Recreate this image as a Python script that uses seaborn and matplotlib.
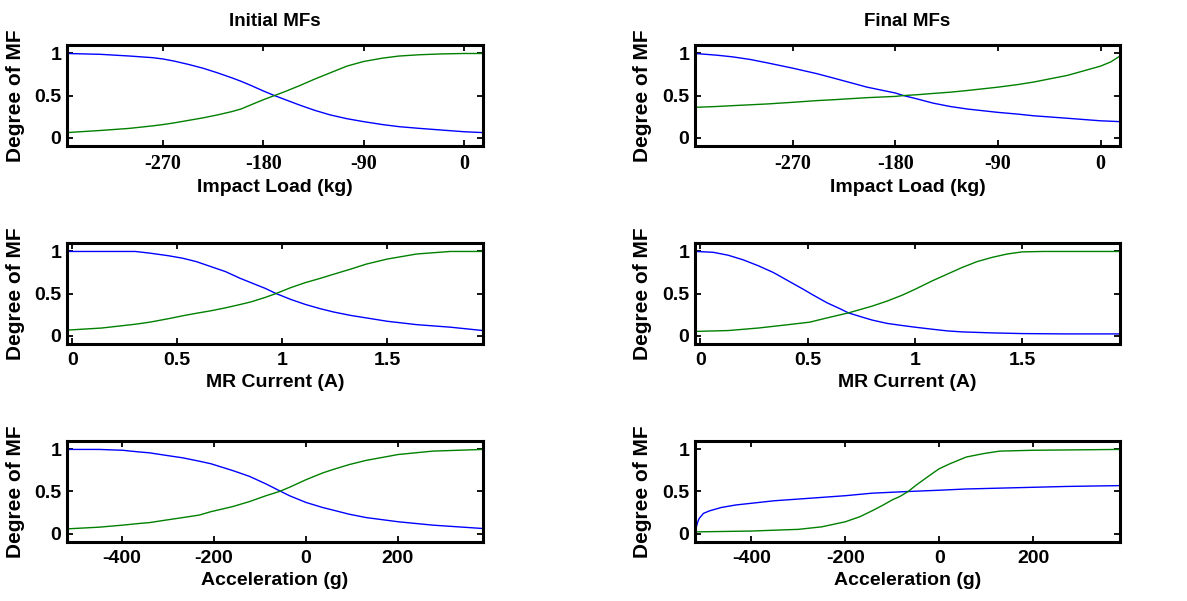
import matplotlib
matplotlib.use("Agg")
import matplotlib.pyplot as plt
import seaborn as sns

# ---------------- data ----------------
# Panel 1: Initial MFs, Impact Load
load_init_x = [-356, -326, -300, -279, -270, -260, -247, -234, -221, -208, -200, -191,
               -180, -170, -160, -147, -134, -120, -105, -90, -73, -58, -40, -20, 0, 17]
load_init_blue = [1.0, 0.99, 0.97, 0.95, 0.935, 0.91, 0.87, 0.825, 0.77, 0.71, 0.67, 0.62,
                  0.555, 0.50, 0.45, 0.385, 0.325, 0.27, 0.225, 0.19, 0.155, 0.13, 0.11,
                  0.09, 0.07, 0.06]
load_init_green = [0.06, 0.085, 0.11, 0.14, 0.155, 0.175, 0.205, 0.235, 0.27, 0.31, 0.34,
                   0.39, 0.45, 0.50, 0.55, 0.62, 0.695, 0.77, 0.85, 0.905, 0.945, 0.97,
                   0.985, 0.995, 1.0, 1.0]

# Panel 2: Final MFs, Impact Load
load_final_x = [-356, -337, -323, -308, -293, -270, -249, -235, -205, -180, -173,
                -161, -147, -132, -117, -90, -73, -59, -29, 0, 9, 17]
load_final_blue = [1.0, 0.98, 0.96, 0.93, 0.89, 0.825, 0.76, 0.71, 0.60, 0.53, 0.50,
                   0.46, 0.41, 0.37, 0.34, 0.30, 0.28, 0.26, 0.23, 0.20, 0.195, 0.19]
load_final_green = [0.36, 0.37, 0.38, 0.39, 0.40, 0.42, 0.44, 0.45, 0.475, 0.49, 0.50,
                    0.51, 0.525, 0.54, 0.56, 0.60, 0.63, 0.66, 0.74, 0.85, 0.90, 0.97]

# Panel 3: Initial MFs, MR Current
cur_init_x = [-0.025, 0.14, 0.30, 0.37, 0.456, 0.525, 0.59, 0.66, 0.73, 0.80, 0.85,
              0.92, 0.97, 1.04, 1.11, 1.18, 1.245, 1.325, 1.40, 1.50, 1.64, 1.80, 1.955]
cur_init_blue = [1.0, 1.0, 1.0, 0.98, 0.95, 0.92, 0.88, 0.82, 0.76, 0.68, 0.63,
                 0.56, 0.50, 0.43, 0.37, 0.32, 0.28, 0.24, 0.21, 0.17, 0.13, 0.10, 0.06]
cur_init_green = [0.065, 0.09, 0.135, 0.16, 0.20, 0.235, 0.265, 0.295, 0.33, 0.37, 0.40,
                  0.455, 0.50, 0.57, 0.63, 0.68, 0.73, 0.79, 0.85, 0.91, 0.97, 1.0, 1.0]

# Panel 4: Final MFs, MR Current
cur_final_blue_x = [-0.02, 0.06, 0.13, 0.20, 0.27, 0.34, 0.41, 0.48, 0.52, 0.59, 0.65,
                    0.69, 0.76, 0.80, 0.87, 0.94, 1.0, 1.08, 1.15, 1.22, 1.36, 1.5,
                    1.7, 1.955]
cur_final_blue = [1.0, 0.99, 0.955, 0.90, 0.83, 0.75, 0.65, 0.55, 0.49, 0.39, 0.32,
                  0.27, 0.215, 0.185, 0.145, 0.12, 0.10, 0.076, 0.056, 0.044, 0.032,
                  0.024, 0.02, 0.02]
cur_final_green_x = [-0.02, 0.13, 0.27, 0.41, 0.51, 0.59, 0.69, 0.80, 0.87, 0.94, 1.0,
                     1.08, 1.15, 1.22, 1.29, 1.36, 1.43, 1.5, 1.6, 1.955]
cur_final_green = [0.05, 0.06, 0.09, 0.13, 0.16, 0.21, 0.27, 0.35, 0.41, 0.48, 0.55,
                   0.65, 0.73, 0.81, 0.88, 0.93, 0.97, 0.995, 1.0, 1.0]

# Panel 5: Initial MFs, Acceleration
acc_init_x = [-519, -450, -399, -363, -341, -305, -268, -232, -207, -160, -123,
              -87, -58, -36, 0, 36, 58, 94, 131, 201, 276, 385]
acc_init_blue = [1.0, 1.0, 0.99, 0.97, 0.96, 0.93, 0.90, 0.86, 0.83, 0.75, 0.68,
                 0.59, 0.51, 0.45, 0.37, 0.31, 0.28, 0.23, 0.19, 0.14, 0.10, 0.06]
acc_init_green = [0.056, 0.076, 0.10, 0.12, 0.13, 0.16, 0.19, 0.22, 0.26, 0.32, 0.38,
                  0.45, 0.50, 0.55, 0.64, 0.72, 0.76, 0.82, 0.87, 0.94, 0.98, 1.0]

# Panel 6: Final MFs, Acceleration
acc_final_blue_x = [-519, -517, -514, -511, -502, -489, -464, -433, -400, -351, -300,
                    -250, -200, -143, -66, 0, 58, 129, 200, 271, 385]
acc_final_blue = [0.02, 0.08, 0.14, 0.18, 0.24, 0.27, 0.31, 0.34, 0.36, 0.39, 0.41,
                  0.43, 0.45, 0.48, 0.50, 0.515, 0.53, 0.54, 0.55, 0.56, 0.57]
acc_final_green_x = [-519, -400, -351, -300, -250, -200, -169, -143, -119, -100, -84,
                     -66, -48, -13, 0, 23, 58, 94, 129, 200, 385]
acc_final_green = [0.02, 0.03, 0.04, 0.05, 0.08, 0.14, 0.20, 0.27, 0.34, 0.40, 0.44,
                   0.50, 0.58, 0.72, 0.77, 0.83, 0.91, 0.95, 0.98, 0.99, 1.0]

titles = ["Initial MFs", "Final MFs"]
xlabels = ["Impact Load (kg)", "MR Current (A)", "Acceleration (g)"]
ylabel = "Degree of MF"
xticks_rows = [[-270, -180, -90, 0], [0, 0.5, 1, 1.5], [-400, -200, 0, 200]]
xticklabels_rows = [["-270", "-180", "-90", "0"], ["0", "0.5", "1", "1.5"],
                    ["-400", "-200", "0", "200"]]
xlims_rows = [(-356, 17), (-0.025, 1.955), (-520, 385)]
yticks = [0, 0.5, 1]
yticklabels = ["0", "0.5", "1"]

panels = [
    [(load_init_x, load_init_blue, load_init_x, load_init_green),
     (load_final_x, load_final_blue, load_final_x, load_final_green)],
    [(cur_init_x, cur_init_blue, cur_init_x, cur_init_green),
     (cur_final_blue_x, cur_final_blue, cur_final_green_x, cur_final_green)],
    [(acc_init_x, acc_init_blue, acc_init_x, acc_init_green),
     (acc_final_blue_x, acc_final_blue, acc_final_green_x, acc_final_green)],
]

# ---------------- style ----------------
sns.set_theme(style="white")
plt.rcParams['font.family'] = ['Liberation Sans', 'DejaVu Sans']
plt.rcParams['font.weight'] = 'bold'

BLUE = "#0000FF"
GREEN = "#008000"

fig = plt.figure(figsize=(11.87, 6.01), dpi=100)
fig.patch.set_facecolor("white")

col_left = [0.0564, 0.5855]
col_width = [0.3505, 0.358]
row_bottom = [0.757, 0.4276, 0.0982]
row_height = 0.168

for r in range(3):
    for c in range(2):
        ax = fig.add_axes([col_left[c], row_bottom[r], col_width[c], row_height])
        bx, by, gx, gy = panels[r][c]
        sns.lineplot(x=bx, y=by, ax=ax, color=BLUE, linewidth=1.0, estimator=None)
        sns.lineplot(x=gx, y=gy, ax=ax, color=GREEN, linewidth=1.0, estimator=None)
        ax.set_xlim(*xlims_rows[r])
        ax.set_ylim(-0.1, 1.1)
        ax.set_xticks(xticks_rows[r])
        ax.set_xticklabels(xticklabels_rows[r])
        ax.set_yticks(yticks)
        ax.set_yticklabels(yticklabels)
        ax.tick_params(direction="in", length=4, width=1.3, top=True, right=True,
                       bottom=True, left=True, labelsize=14, colors="black")
        ax.tick_params(axis="x", pad=6)
        ax.tick_params(axis="y", pad=4)
        for lbl in ax.get_xticklabels() + ax.get_yticklabels():
            lbl.set_fontweight("bold")
        if r == 0:
            for lbl in ax.get_xticklabels():
                lbl.set_fontfamily(["Liberation Serif", "DejaVu Serif"])
                lbl.set_fontsize(14.5)
        for sp in ax.spines.values():
            sp.set_visible(True)
            sp.set_color("black")
            sp.set_linewidth(2.2)
        ax.set_xlabel(xlabels[r], fontsize=14, fontweight="bold", color="black")
        ax.xaxis.set_label_coords(0.5, -0.33 if r == 0 else -0.30)
        ax.set_ylabel(ylabel, fontsize=15, fontweight="bold", color="black")
        ax.yaxis.set_label_coords(-0.10, 0.5)
        if r == 0:
            ax.set_title(titles[c], fontsize=13.5, fontweight="bold", pad=14,
                         color="black")
        ax.grid(False)

fig.savefig("out.png", dpi=100, facecolor="white")
